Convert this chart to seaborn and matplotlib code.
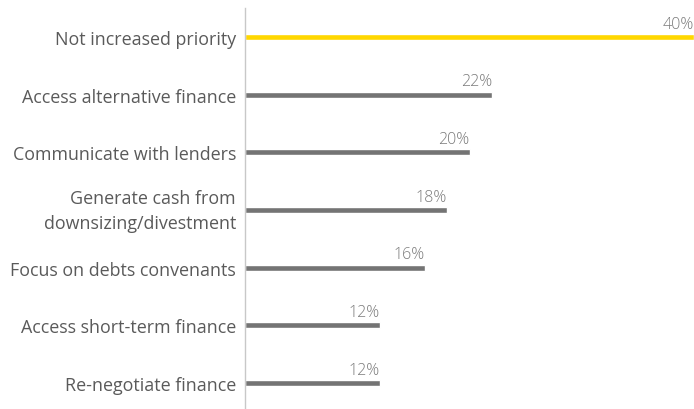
import matplotlib
matplotlib.use("Agg")
import matplotlib.pyplot as plt
import matplotlib.transforms as mtransforms
import seaborn as sns
import pandas as pd

categories = [
    "Not increased priority",
    "Access alternative finance",
    "Communicate with lenders",
    "Generate cash from\ndownsizing/divestment",
    "Focus on debts convenants",
    "Access short-term finance",
    "Re-negotiate finance",
]
values = [40, 22, 20, 18, 16, 12, 12]
colors = ["#FFD700", "#747474", "#747474", "#747474", "#747474", "#747474", "#747474"]

sns.set_theme(style="white")
plt.rcParams["font.family"] = ["Open Sans", "DejaVu Sans"]

df = pd.DataFrame({"category": categories, "value": values})

fig = plt.figure(figsize=(6.94, 4.10), dpi=100)
ax = fig.add_axes([245 / 694, -0.007, 449 / 694, 0.985])

sns.barplot(data=df, x="value", y="category", hue="category", palette=colors,
            orient="h", width=0.105, legend=False, ax=ax, saturation=1)

ax.set_xlim(0, 40)
ax.set_ylim(6.5, -0.5)
ax.set_xlabel("")
ax.set_ylabel("")
ax.set_xticks([])
for s in ["top", "right", "bottom"]:
    ax.spines[s].set_visible(False)
ax.spines["left"].set_color("#c8c8c8")
ax.spines["left"].set_linewidth(1.0)

ax.tick_params(axis="y", length=0, pad=6.5, labelsize=12.9, labelcolor="#5a5a5a")
for lbl in ax.get_yticklabels():
    lbl.set_horizontalalignment("right")
    lbl.set_multialignment("right")
    lbl.set_linespacing(1.5)
    lbl.set_fontweight("medium")

# lift the two-line label a few pixels so it sits slightly above its bar
two_line = ax.get_yticklabels()[3]
two_line.set_transform(two_line.get_transform()
                       + mtransforms.ScaledTranslation(0, 5 / 100, fig.dpi_scale_trans))

for i, v in enumerate(values):
    ax.text(v, i - 0.09, f"{v}%", ha="right", va="bottom", fontsize=11.5,
            color="#7a7a7a", fontweight="light")

fig.savefig("out.png", dpi=100, facecolor="white")
